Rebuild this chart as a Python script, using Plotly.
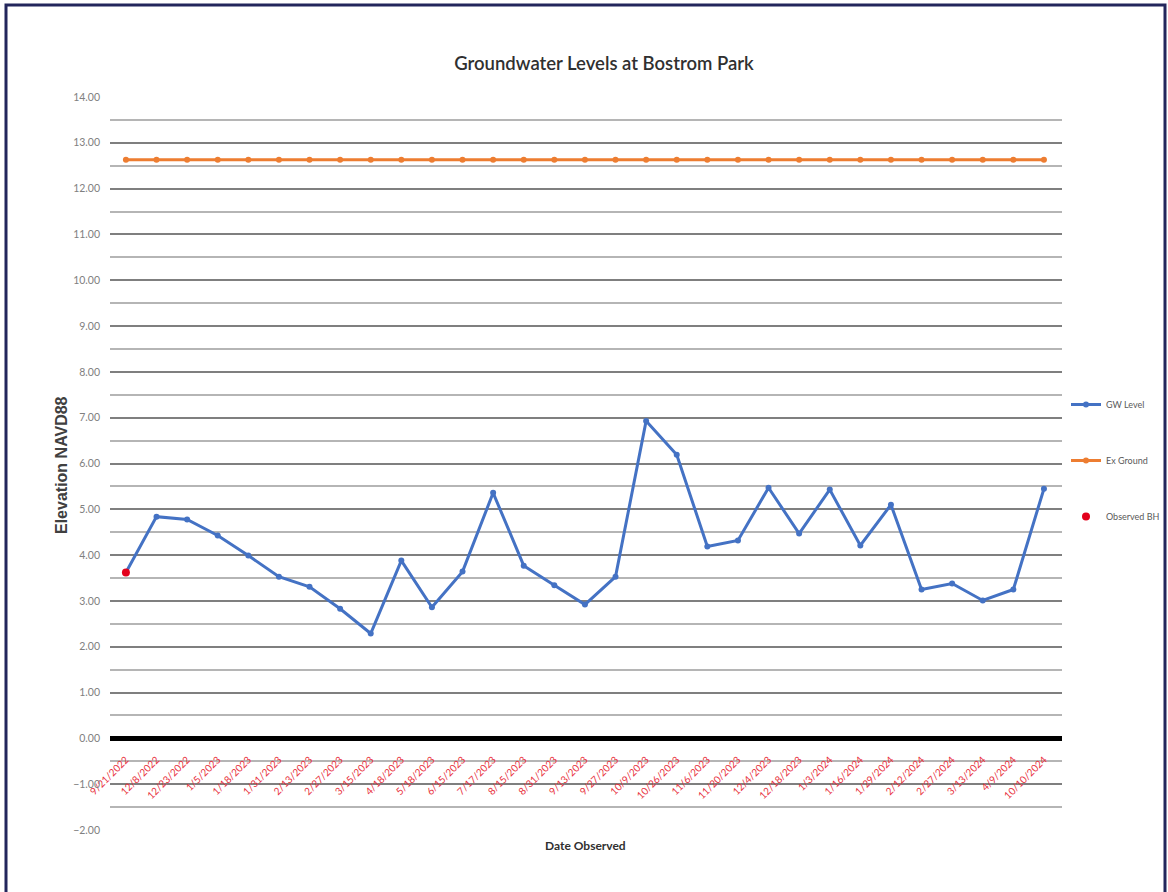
import plotly.graph_objects as go

dates = ["9/21/2022", "12/8/2022", "12/23/2022", "1/5/2023", "1/18/2023", "1/31/2023",
         "2/13/2023", "2/27/2023", "3/15/2023", "4/18/2023", "5/18/2023", "6/15/2023",
         "7/17/2023", "8/15/2023", "8/31/2023", "9/13/2023", "9/27/2023", "10/9/2023",
         "10/26/2023", "11/6/2023", "11/20/2023", "12/4/2023", "12/18/2023", "1/3/2024",
         "1/16/2024", "1/29/2024", "2/12/2024", "2/27/2024", "3/13/2024", "4/9/2024",
         "10/10/2024"]
gw_level = [3.62, 4.84, 4.78, 4.43, 3.99, 3.53, 3.31, 2.83, 2.29, 3.88, 2.86, 3.64,
            5.36, 3.77, 3.34, 2.92, 3.53, 6.93, 6.19, 4.19, 4.32, 5.47, 4.47, 5.43,
            4.21, 5.10, 3.25, 3.38, 3.01, 3.25, 5.45]
ex_ground = [12.63] * len(dates)
observed_dates = ["9/21/2022"]
observed_bh = [3.62]

W, H = 1168, 892
L, R, T, B = 110, 106, 97, 62
pw, ph = W - L - R, H - T - B

def px(x):
    return (x - L) / pw

def py(y):
    return (H - B - y) / ph

fig = go.Figure()
fig.add_trace(go.Scatter(x=dates, y=gw_level, mode="lines+markers", name="GW Level",
                         legendgroup="a",
                         line=dict(color="#4472c4", width=3),
                         marker=dict(color="#4472c4", size=6)))
fig.add_trace(go.Scatter(x=dates, y=ex_ground, mode="lines+markers", name="Ex Ground",
                         legendgroup="b",
                         line=dict(color="#ed7d31", width=3),
                         marker=dict(color="#ed7d31", size=6)))
fig.add_trace(go.Scatter(x=observed_dates, y=observed_bh, mode="markers", name="Observed BH",
                         legendgroup="c",
                         marker=dict(color="#e3001b", size=8)))

fig.update_layout(
    width=W, height=H,
    margin=dict(l=L, r=R, t=T, b=B, autoexpand=False),
    paper_bgcolor="white", plot_bgcolor="white",
    font=dict(family="Lato, Open Sans, sans-serif", color="#595959"),
    title=dict(text="Groundwater Levels at Bostrom Park", x=604 / W, xanchor="center",
               y=1 - 64 / H, yanchor="middle",
               font=dict(size=18.5, color="#303030", weight=600,
                         family="Lato, Open Sans, sans-serif")),
    showlegend=True,
    legend=dict(x=px(1066), y=py(390), xanchor="left", yanchor="top",
                tracegroupgap=37, font=dict(size=9, color="#595959"),
                itemwidth=30, bgcolor="rgba(0,0,0,0)"),
    xaxis=dict(type="category", range=[-0.52, 30.59], showgrid=False, showline=False,
               zeroline=False, ticks="", tickangle=-45, ticklabelstandoff=12,
               tickfont=dict(size=10, color="#e8303c"),
               anchor="free", position=py(739),
               title=None),
    yaxis=dict(range=[-2, 14], dtick=1, tickformat=".2f", showgrid=True,
               gridcolor="#7f7f7f", gridwidth=2,
               minor=dict(dtick=0.5, showgrid=True, gridcolor="#b5b5b5", gridwidth=2),
               zeroline=True, zerolinecolor="#000000", zerolinewidth=5,
               showline=False, ticks="", ticklabelstandoff=9,
               tickfont=dict(size=10.5, color="#808080")),
)

fig.add_annotation(text="<b>Elevation NAVD88</b>", xref="paper", yref="paper",
                   x=px(62), y=py(465), xanchor="center", yanchor="middle",
                   textangle=-90, showarrow=False,
                   font=dict(size=16, color="#404040", family="Liberation Sans, Arial"))
fig.add_annotation(text="<b>Date Observed</b>", xref="paper", yref="paper",
                   x=px(585), y=py(846), xanchor="center", yanchor="middle", showarrow=False,
                   font=dict(size=12, color="#303030", family="Lato, Open Sans"))

fig.add_shape(type="rect", xref="paper", yref="paper",
              x0=px(6), x1=px(1165), y0=py(897), y1=py(5),
              line=dict(color="#23265c", width=3), fillcolor="rgba(0,0,0,0)", layer="above")

fig.write_html("out.html", config={"displayModeBar": False},
               post_script="document.body.style.margin='0';document.body.style.overflow='hidden';")
